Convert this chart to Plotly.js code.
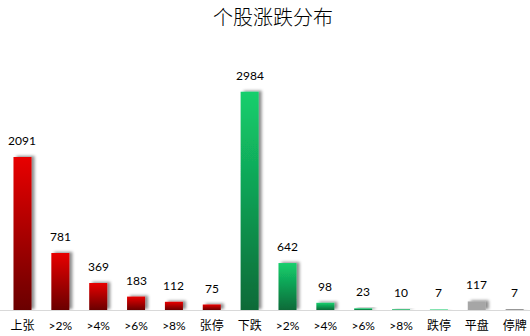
<!DOCTYPE html>
<html><head><meta charset="utf-8">
<script src="https://cdn.plot.ly/plotly-3.0.1.min.js"></script>
<style>html,body{margin:0;padding:0;background:#fff}</style>
</head><body>
<div id="chart" style="width:530px;height:336px"></div>
<script>
const categories = ["上张", ">2%", ">4%", ">6%", ">8%", "张停", "下跌", ">2%", ">4%", ">6%", ">8%", "跌停", "平盘", "停牌"];
const upValues = [2091, 781, 369, 183, 112, 75];
const downValues = [2984, 642, 98, 23, 10, 7];
const flatValues = [117];
const haltValues = [7];
const values = upValues.concat(downValues, flatValues, haltValues);
const groups = upValues.map(() => "up").concat(downValues.map(() => "down"), ["flat"], ["halt"]);
const baseColor = {up: "#c00000", down: "#10a055", flat: "#a6a6a6", halt: "#404040"};
const xs = categories.map((_, i) => i);

const trace = {
  type: "bar",
  x: xs,
  y: values,
  marker: {color: groups.map(g => baseColor[g]), line: {width: 0}},
  hoverinfo: "none"
};

const annotations = values.map((v, i) => ({
  x: xs[i], y: v, xref: "x", yref: "y", text: String(v),
  showarrow: false, yanchor: "bottom", yshift: 7,
  font: {family: "Lato, 'Liberation Sans', sans-serif", size: 12, color: "#000"}
}));

const layout = {
  width: 530, height: 336,
  margin: {l: 0, r: 0, t: 54, b: 26},
  paper_bgcolor: "#fff", plot_bgcolor: "#fff",
  title: {text: "个股涨跌分布", x: 0.515, xanchor: "center", y: 0.945, yanchor: "middle",
          font: {family: "'Noto Sans CJK SC', sans-serif", size: 20, color: "#000", weight: 300}},
  bargap: 0.524,
  showlegend: false,
  xaxis: {range: [-0.594, 13.406], tickmode: "array", tickvals: xs, ticktext: categories,
          showline: true, linecolor: "#d9d9d9", linewidth: 1, showgrid: false, zeroline: false,
          ticks: "", ticklabelstandoff: 5,
          tickfont: {family: "Lato, 'Noto Sans CJK SC', sans-serif", size: 12, color: "#000"}},
  yaxis: {range: [0, 3500], visible: false, showgrid: false, zeroline: false},
  annotations: annotations
};

Plotly.newPlot("chart", [trace], layout, {staticPlot: true}).then(gd => {
  const svg = gd.querySelector("svg.main-svg");
  const NS = "http://www.w3.org/2000/svg";
  const defs = document.createElementNS(NS, "defs");
  function grad(id, top, bottom) {
    const g = document.createElementNS(NS, "linearGradient");
    g.setAttribute("id", id); g.setAttribute("x1", "0"); g.setAttribute("y1", "0");
    g.setAttribute("x2", "0"); g.setAttribute("y2", "1");
    [[0, top], [1, bottom]].forEach(([o, c]) => {
      const s = document.createElementNS(NS, "stop");
      s.setAttribute("offset", o); s.setAttribute("stop-color", c);
      g.appendChild(s);
    });
    defs.appendChild(g);
  }
  grad("gUp", "#e80000", "#6a0000");
  grad("gDown", "#14cf6d", "#0b6a38");
  const f = document.createElementNS(NS, "filter");
  f.setAttribute("id", "shadow");
  f.setAttribute("x", "-50%"); f.setAttribute("y", "-50%");
  f.setAttribute("width", "200%"); f.setAttribute("height", "200%");
  const ds = document.createElementNS(NS, "feDropShadow");
  ds.setAttribute("dx", "3"); ds.setAttribute("dy", "-1");
  ds.setAttribute("stdDeviation", "1.6");
  ds.setAttribute("flood-color", "#000"); ds.setAttribute("flood-opacity", "0.45");
  f.appendChild(ds);
  defs.appendChild(f);
  svg.insertBefore(defs, svg.firstChild);
  const paths = gd.querySelectorAll(".bars .point path");
  paths.forEach((p, i) => {
    const g = groups[i];
    if (g === "up") p.style.fill = "url(#gUp)";
    if (g === "down") p.style.fill = "url(#gDown)";
    p.setAttribute("filter", "url(#shadow)");
  });
});
</script>
</body></html>
